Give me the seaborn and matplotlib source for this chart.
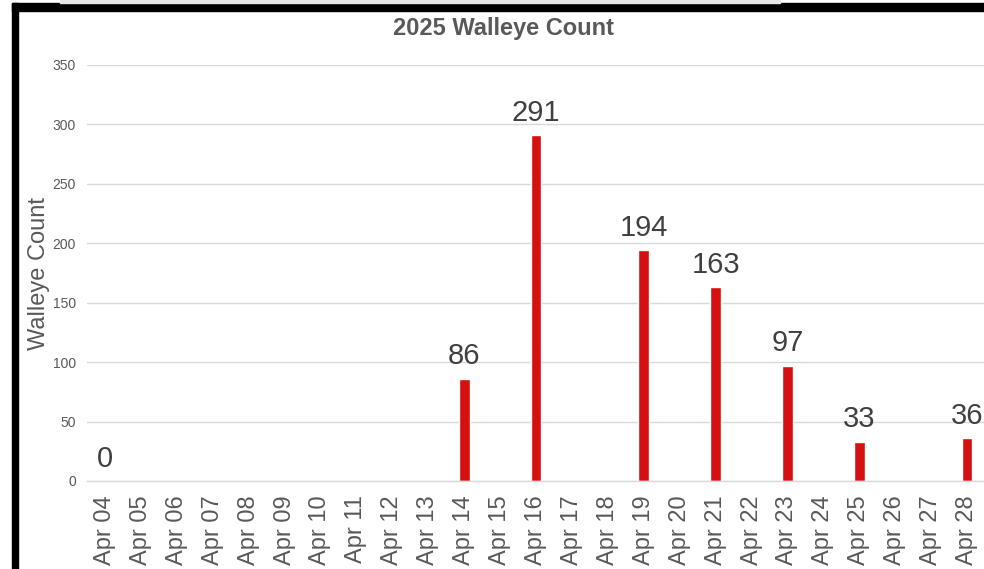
import numpy as np
import pandas as pd
import matplotlib
matplotlib.use("Agg")
import matplotlib.pyplot as plt
import seaborn as sns
from matplotlib.patches import Rectangle

days = [f"Apr {d:02d}" for d in range(4, 29)]
counted = {"Apr 04": 0, "Apr 14": 86, "Apr 16": 291, "Apr 19": 194,
           "Apr 21": 163, "Apr 23": 97, "Apr 25": 33, "Apr 28": 36}
counts = [counted.get(d, np.nan) for d in days]
yticks = [0, 50, 100, 150, 200, 250, 300, 350]

df = pd.DataFrame({"Day": days, "Walleye Count": counts})

sns.set_theme(style="white")
plt.rcParams["font.family"] = ["Liberation Sans", "DejaVu Sans"]

GREY = "#595959"
GRID = "#d9d9d9"

fig = plt.figure(figsize=(9.84, 5.69), dpi=100)
ax = fig.add_axes([87 / 984, 1 - 481 / 569, 898 / 984, 416 / 569])

sns.barplot(data=df, x="Day", y="Walleye Count", order=days,
            color="#d61010", saturation=1, width=0.3, ax=ax)

ax.set_ylim(0, 350)
ax.set_xlim(-0.5, len(days) - 0.5)
ax.set_yticks(yticks)
ax.yaxis.grid(True, color=GRID, linewidth=1)
ax.set_axisbelow(True)
for s in ["top", "right", "left"]:
    ax.spines[s].set_visible(False)
ax.spines["bottom"].set_color(GRID)
ax.spines["bottom"].set_linewidth(1)

ax.tick_params(axis="y", length=0, pad=8, labelsize=10, labelcolor=GREY)
ax.tick_params(axis="x", which="major", length=0, pad=10, labelsize=17,
               labelcolor=GREY, rotation=90)
ax.set_xticks(np.arange(-0.5, len(days)), minor=True)
ax.tick_params(axis="x", which="minor", length=4, width=1, color=GRID,
               direction="out")

ax.set_xlabel("")
ax.set_ylabel("Walleye Count", fontsize=17, color=GREY)
ax.yaxis.set_label_coords(-0.041, 0.5)

for c in ax.containers:
    ax.bar_label(c, fmt="{:.0f}", padding=6, fontsize=21, color="#404040")

fig.text(503 / 984, 1 - 29 / 569, "2025 Walleye Count", ha="center",
         va="center", fontsize=17, fontweight="bold", color=GREY)

# screenshot frame
fig.patches.append(Rectangle((12 / 984, 1 - 11 / 569), 1, 8 / 569,
                             transform=fig.transFigure, color="black"))
fig.patches.append(Rectangle((12 / 984, 0), 6 / 984, 1 - 3 / 569,
                             transform=fig.transFigure, color="black"))
fig.patches.append(Rectangle((60 / 984, 1 - 3 / 569), 720 / 984, 3 / 569,
                             transform=fig.transFigure, color="#e6e6e6"))

fig.savefig("out.png", dpi=100)
